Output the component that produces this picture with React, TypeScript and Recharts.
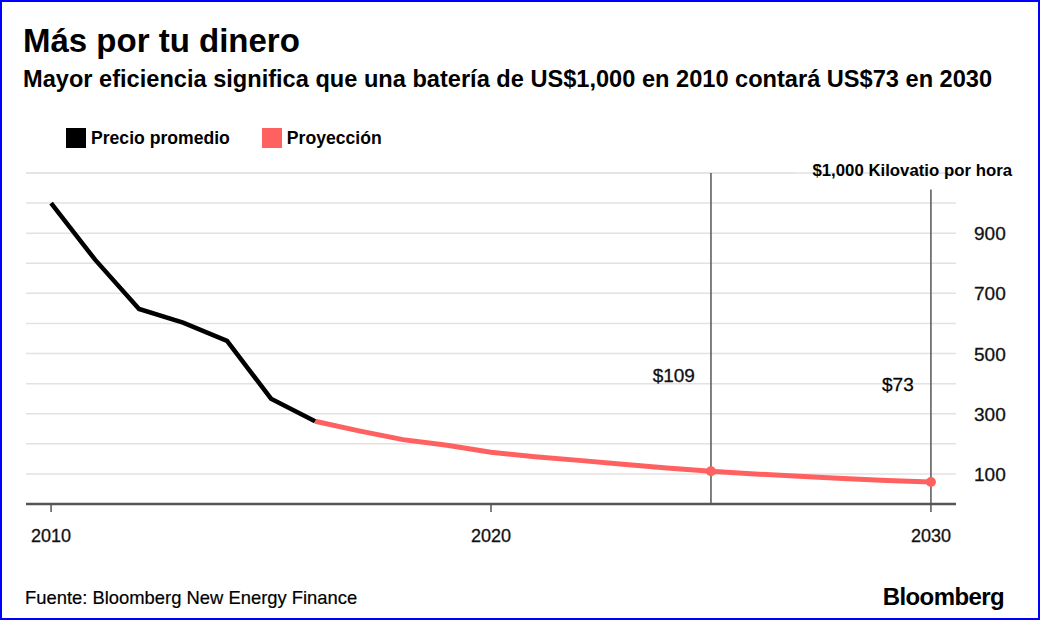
import React from 'react';
import { LineChart, Line, XAxis, YAxis, CartesianGrid, ReferenceLine } from 'recharts';

const YEARS = [2010, 2011, 2012, 2013, 2014, 2015, 2016, 2017, 2018, 2019, 2020, 2021, 2022, 2023, 2024, 2025, 2026, 2027, 2028, 2029, 2030];
const PRICE = [1000, 812, 648, 603, 542, 350, 275, null, null, null, null, null, null, null, null, null, null, null, null, null, null];
const PROJECTION = [null, null, null, null, null, null, 275, 243, 214, 195, 172, 157, 145, 132, 120, 109, 100, 92, 85, 78, 73];
const Y_TICKS = [0, 100, 200, 300, 400, 500, 600, 700, 800, 900, 1000];
const X_TICKS = [2010, 2020, 2030];
const MARKED = [2025, 2030];

const data = YEARS.map((year, i) => ({ year, price: PRICE[i], projection: PROJECTION[i] }));

const FONT = '"Liberation Sans", Arial, sans-serif';
const RED = '#ff6161';
const DARK = '#555';

const YTick = ({ x, y, payload }: any) => {
  if (payload.value % 200 !== 100) return null;
  return (
    <text x={x + 10} y={y + 7} fontSize={19} fontFamily={FONT} fill="#111" stroke="#111" strokeWidth={0.3} textAnchor="start">
      {payload.value}
    </text>
  );
};

const XTick = ({ x, y, payload }: any) => (
  <text x={x} y={y + 28} fontSize={18} fontFamily={FONT} fill="#111" stroke="#111" strokeWidth={0.3} textAnchor="middle">
    {payload.value}
  </text>
);

const Dot = (props: any) => {
  const { cx, cy, payload, index } = props;
  if (!MARKED.includes(payload.year)) return <g key={index} />;
  return <circle key={index} cx={cx} cy={cy} r={5} fill={RED} />;
};

const sideLabel = (text: string, dy: number) => (props: any) => {
  const { viewBox } = props;
  return (
    <text x={viewBox.x - 16} y={viewBox.y + dy} fontSize={19} fontFamily={FONT} fill="#111" stroke="#111" strokeWidth={0.3} textAnchor="end">
      {text}
    </text>
  );
};

export default function App() {
  return (
    <div style={{ position: 'absolute', left: 0, top: 0, width: 1040, height: 620, background: '#fff', fontFamily: FONT, color: '#000' }}>
      <div style={{ position: 'absolute', left: 23, top: 22, fontSize: 33, fontWeight: 700, lineHeight: '38px' }}>Más por tu dinero</div>
      <div style={{ position: 'absolute', left: 23, top: 65, fontSize: 23.6, fontWeight: 700, lineHeight: '28px', whiteSpace: 'nowrap' }}>
        Mayor eficiencia significa que una batería de US$1,000 en 2010 contará US$73 en 2030
      </div>
      <div style={{ position: 'absolute', left: 66, top: 128, display: 'flex', alignItems: 'center', fontSize: 17.6, fontWeight: 700, lineHeight: '20px' }}>
        <span style={{ width: 20, height: 20, background: '#000', display: 'inline-block', marginRight: 5 }} />
        <span style={{ marginRight: 32 }}>Precio promedio</span>
        <span style={{ width: 20, height: 20, background: RED, display: 'inline-block', marginRight: 5 }} />
        <span>Proyección</span>
      </div>

      <div style={{ position: 'absolute', left: 0, top: 0 }}>
        <LineChart width={1040} height={620} data={data} margin={{ top: 173, right: 24, bottom: 86, left: 26 }}>
          <CartesianGrid vertical={false} stroke="#e2e2e2" strokeWidth={1.5} />
          <XAxis
            dataKey="year"
            type="number"
            domain={[2009.43, 2030.57]}
            allowDataOverflow
            ticks={X_TICKS}
            tick={<XTick />}
            height={30}
            axisLine={{ stroke: DARK, strokeWidth: 2.5 }}
            tickLine={{ stroke: DARK, strokeWidth: 1.5 }}
            tickSize={8}
          />
          <YAxis
            orientation="right"
            domain={[0, 1100]}
            ticks={Y_TICKS}
            tick={<YTick />}
            axisLine={false}
            tickLine={false}
            width={60}
            allowDataOverflow
          />
          <ReferenceLine
            segment={[{ x: 2009.43, y: 1100 }, { x: 2026.9, y: 1100 }]}
            stroke="#e2e2e2"
            strokeWidth={1.5}
          />
          <ReferenceLine x={2025} stroke={DARK} strokeWidth={1.5} label={sideLabel('$109', 209)} />
          <ReferenceLine
            segment={[{ x: 2030, y: 0 }, { x: 2030, y: 1045 }]}
            stroke={DARK}
            strokeWidth={1.5}
          />
          <Line
            dataKey="projection"
            stroke={RED}
            strokeWidth={5}
            dot={<Dot />}
            activeDot={false}
            connectNulls={false}
            isAnimationActive={false}
          />
          <Line
            dataKey="price"
            stroke="#000"
            strokeWidth={4.5}
            dot={false}
            activeDot={false}
            connectNulls={false}
            isAnimationActive={false}
          />
        </LineChart>
      </div>

      <div style={{ position: 'absolute', left: 882, top: 373, fontSize: 19, lineHeight: '24px', WebkitTextStroke: '0.3px #111' }}>$73</div>
      <div style={{ position: 'absolute', right: 28, top: 161, fontSize: 16.8, fontWeight: 700, lineHeight: '20px', whiteSpace: 'nowrap' }}>
        $1,000 Kilovatio por hora
      </div>
      <div style={{ position: 'absolute', left: 25, top: 587, fontSize: 18.4, lineHeight: '22px', WebkitTextStroke: '0.2px #000' }}>Fuente: Bloomberg New Energy Finance</div>
      <div style={{ position: 'absolute', right: 36, top: 583, fontSize: 24, fontWeight: 700, lineHeight: '28px', letterSpacing: -0.6 }}>Bloomberg</div>

      <div style={{ position: 'absolute', left: 0, top: 0, width: 1040, height: 620, boxSizing: 'border-box', border: '2px solid #0000ff', pointerEvents: 'none' }} />
    </div>
  );
}
